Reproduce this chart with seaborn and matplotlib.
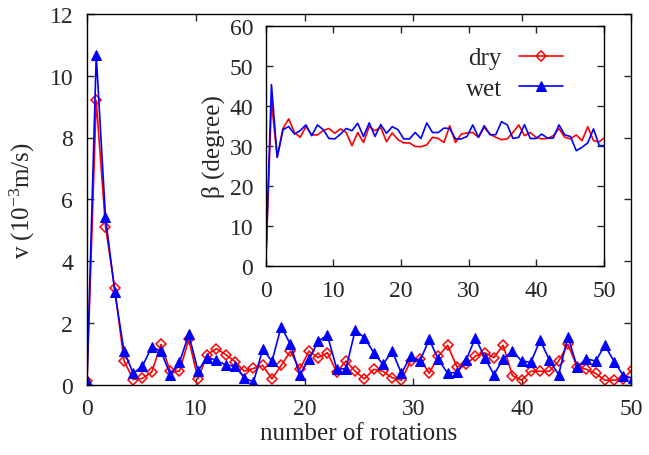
import matplotlib
matplotlib.use("Agg")
import matplotlib.pyplot as plt
import seaborn as sns
import pandas as pd

# ---------------- data ----------------
rotations = [0, 0.85, 1.7, 2.55, 3.4, 4.25, 5.1, 5.95, 6.8, 7.65, 8.5, 9.35, 10.2, 11.05,
             11.9, 12.75, 13.6, 14.45, 15.3, 16.15, 17.0, 17.85, 18.7, 19.55, 20.4, 21.25,
             22.1, 22.95, 23.8, 24.65, 25.5, 26.35, 27.2, 28.05, 28.9, 29.75, 30.6, 31.45,
             32.3, 33.15, 34.0, 34.85, 35.7, 36.55, 37.4, 38.25, 39.1, 39.95, 40.8, 41.65,
             42.5, 43.35, 44.2, 45.05, 45.9, 46.75, 47.6, 48.45, 49.3, 50.15]

v_dry = [0.1, 9.2, 5.11, 3.11, 0.77, 0.16, 0.2, 0.4, 1.3, 0.43, 0.43, 1.46, 0.18, 0.97,
         1.16, 0.97, 0.74, 0.43, 0.52, 0.62, 0.18, 0.62, 1.08, 0.49, 1.08, 0.87, 1.03, 0.4,
         0.76, 0.43, 0.18, 0.49, 0.43, 0.22, 0.14, 0.76, 0.83, 0.36, 0.92, 1.27, 0.57, 0.65,
         0.92, 1.03, 0.87, 1.27, 0.29, 0.14, 0.43, 0.43, 0.43, 0.76, 1.3, 0.57, 0.49, 0.36,
         0.14, 0.14, 0.18, 0.5]

v_wet = [0.1, 10.66, 5.41, 3.01, 1.08, 0.36, 0.6, 1.22, 1.08, 0.32, 0.72, 1.62, 0.45, 0.87,
         0.79, 0.63, 0.6, 0.22, 0.08, 1.14, 0.76, 1.87, 1.3, 0.32, 0.81, 1.41, 1.59, 0.51,
         0.51, 1.76, 1.52, 1.03, 0.65, 1.08, 0.36, 0.92, 0.76, 1.46, 0.81, 0.36, 0.4, 0.79,
         1.52, 0.87, 0.32, 0.83, 1.08, 0.76, 0.72, 1.44, 0.79, 0.32, 1.55, 0.57, 0.83, 0.76,
         1.27, 0.74, 0.29, 0.2]

beta_dry = [0, 41, 27.1, 34.3, 36.7, 33.3, 32.1, 34.8, 32.7, 32.7, 33.8, 34.3, 33.1, 34.2,
            33.3, 30.0, 33.3, 30.8, 34.8, 33.75, 34.6, 31.0, 33.2, 31.5, 30.7, 30.7, 29.8,
            29.75, 30.2, 32.1, 31.8, 30.8, 35.0, 30.8, 32.9, 33.2, 33.3, 32.1, 34.6, 32.9,
            32.1, 31.5, 31.7, 33.3, 35.2, 32.5, 33.3, 32.1, 31.7, 31.8, 32.5, 34.3, 32.1,
            31.7, 32.7, 31.25, 34.75, 31.25, 31.0, 32.1]

beta_wet = [0, 45.3, 27.1, 34.0, 34.8, 32.9, 33.8, 35.2, 32.5, 35.2, 34.0, 31.8, 31.7, 32.9,
            34.3, 33.75, 35.6, 32.3, 35.7, 32.3, 35.3, 33.1, 34.75, 34.0, 31.7, 31.7, 33.3,
            31.8, 35.7, 33.3, 33.3, 34.4, 34.3, 31.7, 31.7, 32.3, 35.2, 32.1, 35.0, 32.75,
            32.75, 36.0, 35.2, 31.8, 32.1, 35.25, 31.8, 31.8, 32.9, 31.9, 31.9, 35.2, 32.7,
            32.3, 28.75, 29.6, 30.7, 34.2, 30.0, 30.0]

series_names = ["dry", "wet"]
x_ticks = [0, 10, 20, 30, 40, 50]
v_ticks = [0, 2, 4, 6, 8, 10, 12]
beta_ticks = [0, 10, 20, 30, 40, 50, 60]

df = pd.DataFrame({"rot": rotations, "v_dry": v_dry, "v_wet": v_wet,
                   "b_dry": beta_dry, "b_wet": beta_wet})

# ---------------- style ----------------
sns.set_style("ticks")
plt.rcParams["font.family"] = ["Liberation Serif", "DejaVu Serif"]
plt.rcParams["mathtext.fontset"] = "custom"
plt.rcParams["mathtext.rm"] = "Liberation Serif"
plt.rcParams["mathtext.it"] = "Liberation Serif:italic"

RED = "#ff0000"
BLUE = "#0000ff"
FS = 17
LFS = 18

fig = plt.figure(figsize=(6.49, 4.56), dpi=100)
ax = fig.add_axes([87 / 649, 1 - 385.5 / 456, 544 / 649, 370.5 / 456])

sns.lineplot(data=df, x="rot", y="v_dry", ax=ax, color=RED, lw=1.2, sort=False,
             estimator=None, marker="D", markersize=5.5, markerfacecolor="none",
             markeredgecolor=RED, markeredgewidth=1.1, label=series_names[0])
sns.lineplot(data=df, x="rot", y="v_wet", ax=ax, color=BLUE, lw=1.2, sort=False,
             estimator=None, marker="^", markersize=7.5, markerfacecolor=BLUE,
             markeredgecolor=BLUE, label=series_names[1])
if ax.legend_:
    ax.legend_.remove()

ax.set_xlim(0, 50)
ax.set_ylim(0, 12)
ax.set_xticks(x_ticks)
ax.set_yticks(v_ticks)
ax.set_xlabel("number of rotations", fontsize=LFS, labelpad=2)
ax.set_ylabel("v (10$^{-3}$m/s)", fontsize=LFS, labelpad=9)
ax.tick_params(direction="in", top=True, right=True, length=5, width=1,
               labelsize=FS)
ax.tick_params(axis="x", pad=10)
ax.tick_params(axis="y", pad=10)
for s in ax.spines.values():
    s.set_linewidth(1.0)
    s.set_color("black")

# ---------------- inset ----------------
ins = fig.add_axes([265.7 / 649, 1 - 266.7 / 456, 338.3 / 649, 240 / 456])
sns.lineplot(data=df, x="rot", y="b_dry", ax=ins, color=RED, lw=1.2, sort=False,
             estimator=None)
sns.lineplot(data=df, x="rot", y="b_wet", ax=ins, color=BLUE, lw=1.2, sort=False,
             estimator=None)
ins.set_xlim(0, 50)
ins.set_ylim(0, 60)
ins.set_xticks(x_ticks)
ins.set_yticks(beta_ticks)
ins.set_xlabel("")
ins.set_ylabel("β (degree)", fontsize=LFS, labelpad=3)
ins.tick_params(direction="in", top=True, right=True, length=5, width=1,
                labelsize=FS)
ins.tick_params(axis="x", pad=10)
ins.tick_params(axis="y", pad=9)
for s in ins.spines.values():
    s.set_linewidth(1.0)
    s.set_color("black")

handles = ax.get_lines()[:2]
ins.legend(handles, series_names, loc="upper right", frameon=False, fontsize=LFS,
           markerfirst=False, handlelength=1.75, handletextpad=0.7, labelspacing=0.3,
           borderpad=0, borderaxespad=0,
           bbox_to_anchor=(563 / 649, 1 - 48 / 456), bbox_transform=fig.transFigure)

fig.savefig("out.png", dpi=100)
